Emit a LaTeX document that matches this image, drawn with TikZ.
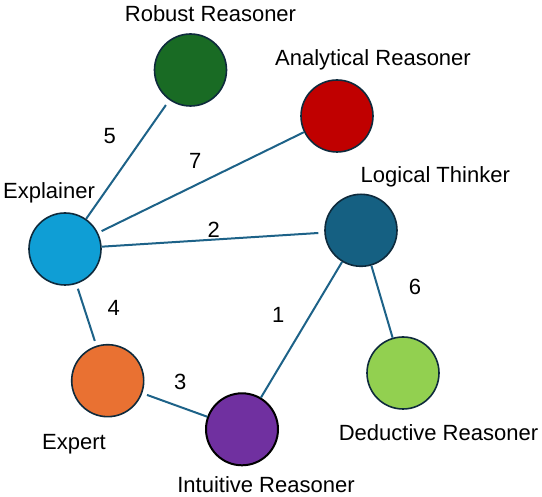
\documentclass[tikz,border=0pt]{standalone}
\usepackage{fontspec}
\setmainfont{Liberation Sans}
\definecolor{edgec}{HTML}{1D6288}
\definecolor{rimc}{HTML}{0E2A3C}
\definecolor{cgreen}{HTML}{196B24}
\definecolor{cred}{HTML}{C00000}
\definecolor{cblue}{HTML}{0F9ED5}
\definecolor{cteal}{HTML}{156082}
\definecolor{clime}{HTML}{92D050}
\definecolor{corange}{HTML}{E97132}
\definecolor{cpurple}{HTML}{7030A0}
\tikzset{
  agent/.style={circle, draw=rimc, line width=1.6pt, minimum size=72pt, inner sep=0pt},
  lab/.style={anchor=base, inner sep=0pt, font=\fontsize{22}{24}\selectfont},
  num/.style={inner sep=0pt, font=\fontsize{22}{24}\selectfont},
  link/.style={draw=edgec, line width=2pt}
}
\begin{document}
\begin{tikzpicture}[x=1pt,y=-1pt]
\useasboundingbox (0,0) rectangle (542,497);
\node[agent, fill=cgreen] (rob) at (190.5,70) {};
\node[agent, fill=cred] (ana) at (337,116) {};
\node[agent, fill=cblue] (exp) at (65,249) {};
\node[agent, fill=cteal] (log) at (361,230.3) {};
\node[agent, fill=clime] (ded) at (403,373) {};
\node[agent, fill=corange] (ext) at (107.7,380.7) {};
\node[agent, fill=cpurple, draw=black, line width=2pt] (int) at (242,429.3) {};

\node[lab] (lrob) at (210.5,21.7) {Robust Reasoner};
\node[lab] (lana) at (373,66) {Analytical Reasoner};
\node[lab] (lexp) at (49,199) {Explainer};
\node[lab] (llog) at (435.3,182.7) {Logical Thinker};
\node[lab] (lded) at (438.5,440.7) {Deductive Reasoner};
\node[lab] (lext) at (74,450) {Expert};
\node[lab] (lint) at (266,492.5) {Intuitive Reasoner};

\draw[link, shorten >=6pt] (exp) -- (rob);
\draw[link, shorten <=4pt] (exp) -- (ana);
\draw[link, shorten >=6pt] (exp) -- (log);
\draw[link, shorten <=5pt, shorten >=5pt] (exp) -- (ext);
\draw[link, shorten <=5pt] (ext) -- (int);
\draw[link] (int) -- (log);
\draw[link] (log) -- (ded);

\node[num] (n5) at (109.7,136) {5};
\node[num] (n7) at (195.3,160.7) {7};
\node[num] (n2) at (213.7,230) {2};
\node[num] (n4) at (113.7,308.3) {4};
\node[num] (n3) at (180.3,381.7) {3};
\node[num] (n1) at (278.3,315) {1};
\node[num] (n6) at (415,286.7) {6};
\end{tikzpicture}
\end{document}
